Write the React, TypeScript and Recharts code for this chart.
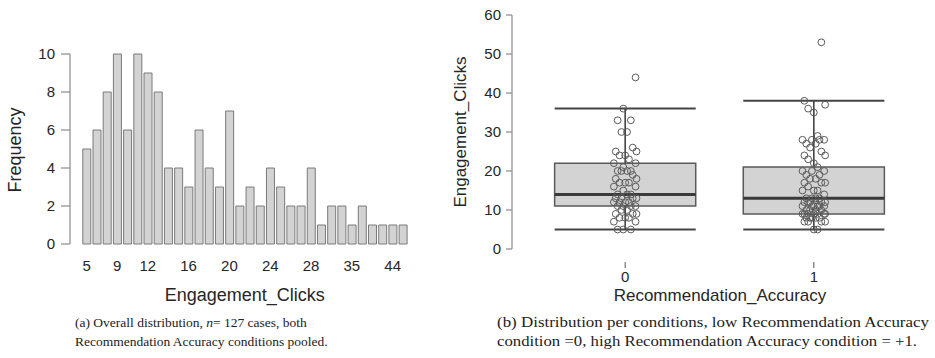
import React from 'react';
import {
  BarChart,
  Bar,
  XAxis,
  YAxis,
  ComposedChart,
  Scatter,
  ReferenceArea,
  ReferenceLine,
} from 'recharts';

// ---------- (a) histogram data ----------
const clickValues = ['5', '7', '8', '9', '10', '11', '12', '13', '14', '15', '16', '17', '18', '19', '20', '21', '22', '23', '24', '25', '26', '27', '28', '29', '30', '33', '35', '36', '37', '38', '44', '53'];
const frequencies = [5, 6, 8, 10, 6, 10, 9, 8, 4, 4, 3, 6, 4, 3, 7, 2, 3, 2, 4, 3, 2, 2, 4, 1, 2, 2, 1, 2, 1, 1, 1, 1];
const shownClickTicks = ['5', '9', '12', '16', '20', '24', '28', '35', '44'];
const frequencyTicks = [0, 2, 4, 6, 8, 10];

// ---------- (b) box plot data ----------
const accuracyGroups = [0, 1];
const lowAccuracyClicks = [5, 5, 5, 7, 7, 8, 8, 8, 9, 9, 9, 10, 10, 11, 11, 11, 11, 12, 12, 12, 12, 13, 13, 13, 13, 14, 14, 14, 15, 16, 16, 17, 17, 17, 18, 18, 19, 20, 20, 20, 20, 21, 22, 22, 23, 24, 24, 25, 25, 26, 30, 30, 33, 33, 36, 44];
const highAccuracyClicks = [5, 5, 7, 7, 7, 7, 8, 8, 8, 8, 8, 9, 9, 9, 9, 9, 9, 9, 10, 10, 10, 10, 11, 11, 11, 11, 11, 11, 12, 12, 12, 12, 12, 13, 13, 13, 13, 14, 15, 15, 15, 16, 17, 17, 17, 18, 18, 19, 19, 20, 20, 20, 21, 22, 23, 24, 24, 25, 26, 27, 27, 28, 28, 28, 28, 29, 35, 36, 37, 38, 53];
const boxQ1 = [11, 9];
const boxMedian = [14, 13];
const boxQ3 = [22, 21];
const whiskerLow = [5, 5];
const whiskerHigh = [36, 38];
const clickTicks = [0, 10, 20, 30, 40, 50, 60];

// hand-set horizontal jitter pattern (category units)
const jitterPattern = [-0.04, 0.03, -0.01, 0.055, -0.06, 0.02, 0.0, -0.03, 0.06, -0.05, 0.04, -0.02, 0.01];

const histData = clickValues.map((c, i) => ({ clicks: c, frequency: frequencies[i] }));
const lowPoints = lowAccuracyClicks.map((v, i) => ({ x: accuracyGroups[0] + jitterPattern[i % jitterPattern.length], y: v }));
const highPoints = highAccuracyClicks.map((v, i) => ({ x: accuracyGroups[1] + jitterPattern[(i + 5) % jitterPattern.length], y: v }));

const FONT = '"Liberation Sans", Arial, sans-serif';
const SERIF = '"Liberation Serif", "Times New Roman", serif';
const TEXT = '#262626';
const AXIS = '#8a8a8a';
const HALF = 0.374;

const OpenDot = (p: any) => (
  <circle cx={p.cx} cy={p.cy} r={3.4} fill="none" stroke="#5a5a5a" strokeWidth={1} />
);

const AccuracyTick = (p: any) => {
  const { x, y, payload } = p;
  return (
    <g>
      <line x1={x} x2={x} y1={y + 13} y2={y + 19} stroke="#555" strokeWidth={1} />
      <text x={x} y={y + 33} textAnchor="middle" fontSize={15} fill={TEXT} fontFamily={FONT}>
        {payload.value}
      </text>
    </g>
  );
};

export default function App() {
  return (
    <div style={{ position: 'absolute', left: 0, top: 0, width: 935, height: 358, background: '#fff', overflow: 'hidden' }}>
      <div style={{ position: 'absolute', left: 0, top: 0 }}>
        <BarChart
          width={420}
          height={310}
          data={histData}
          margin={{ top: 54, right: 12, left: 0, bottom: 0 }}
          barCategoryGap={1.3}
        >
          <XAxis
            dataKey="clicks"
            type="category"
            interval={0}
            axisLine={false}
            tickLine={false}
            tickSize={0}
            tickMargin={16}
            height={66}
            padding={{ left: 11.5, right: 0 }}
            tick={{ fontSize: 15, fill: TEXT, fontFamily: FONT }}
            tickFormatter={(v: string) => (shownClickTicks.includes(v) ? v : '')}
            label={{
              content: (lp: any) => {
                const vb = lp.viewBox || { x: 70, y: 244, width: 338, height: 66 };
                return (
                  <text x={vb.x + 11.5 + (vb.width - 11.5) / 2} y={301} textAnchor="middle" fontSize={18} fill={TEXT} fontFamily={FONT}>
                    Engagement_Clicks
                  </text>
                );
              },
            }}
          />
          <YAxis
            type="number"
            domain={[0, 10]}
            ticks={frequencyTicks}
            width={70}
            tickSize={9}
            tickMargin={6}
            axisLine={{ stroke: AXIS, strokeWidth: 1.2 }}
            tickLine={{ stroke: AXIS, strokeWidth: 1.2 }}
            tick={{ fontSize: 15, fill: TEXT, fontFamily: FONT }}
            label={{
              content: () => (
                <text x={21} y={150} transform="rotate(-90 21 150)" textAnchor="middle" fontSize={18} fill={TEXT} fontFamily={FONT}>
                  Frequency
                </text>
              ),
            }}
          />
          <Bar dataKey="frequency" fill="#d3d3d3" stroke="#7a7a7a" strokeWidth={1} isAnimationActive={false} />
        </BarChart>
      </div>

      <div style={{ position: 'absolute', left: 440, top: 0 }}>
        <ComposedChart width={495} height={310} margin={{ top: 15, right: 8, left: 0, bottom: 0 }}>
          <XAxis
            dataKey="x"
            type="number"
            domain={[-0.6, 1.6]}
            ticks={accuracyGroups}
            allowDataOverflow
            axisLine={false}
            tickLine={false}
            tickSize={0}
            tickMargin={0}
            height={61}
            tick={<AccuracyTick />}
            label={{
              content: () => (
                <text x={280} y={301} textAnchor="middle" fontSize={17} fill={TEXT} fontFamily={FONT}>
                  Recommendation_Accuracy
                </text>
              ),
            }}
          />
          <YAxis
            dataKey="y"
            type="number"
            domain={[0, 60]}
            ticks={clickTicks}
            width={72}
            tickSize={6}
            tickMargin={5}
            axisLine={{ stroke: AXIS, strokeWidth: 1.2 }}
            tickLine={{ stroke: AXIS, strokeWidth: 1.2 }}
            tick={{ fontSize: 15, fill: TEXT, fontFamily: FONT }}
            label={{
              content: () => (
                <text x={26} y={132} transform="rotate(-90 26 132)" textAnchor="middle" fontSize={17} fill={TEXT} fontFamily={FONT}>
                  Engagement_Clicks
                </text>
              ),
            }}
          />
          {accuracyGroups.map((g, i) => (
            <ReferenceArea
              key={'box' + g}
              x1={g - HALF}
              x2={g + HALF}
              y1={boxQ1[i]}
              y2={boxQ3[i]}
              fill="#d3d3d3"
              fillOpacity={1}
              stroke="#5a5a5a"
              strokeWidth={1.5}
            />
          ))}
          {accuracyGroups.map((g, i) => (
            <ReferenceLine key={'wu' + g} segment={[{ x: g, y: boxQ3[i] }, { x: g, y: whiskerHigh[i] }]} stroke="#444" strokeWidth={1.6} />
          ))}
          {accuracyGroups.map((g, i) => (
            <ReferenceLine key={'wl' + g} segment={[{ x: g, y: whiskerLow[i] }, { x: g, y: boxQ1[i] }]} stroke="#444" strokeWidth={1.6} />
          ))}
          {accuracyGroups.map((g, i) => (
            <ReferenceLine key={'ch' + g} segment={[{ x: g - HALF, y: whiskerHigh[i] }, { x: g + HALF, y: whiskerHigh[i] }]} stroke="#444" strokeWidth={2} />
          ))}
          {accuracyGroups.map((g, i) => (
            <ReferenceLine key={'cl' + g} segment={[{ x: g - HALF, y: whiskerLow[i] }, { x: g + HALF, y: whiskerLow[i] }]} stroke="#444" strokeWidth={2} />
          ))}
          {accuracyGroups.map((g, i) => (
            <ReferenceLine key={'md' + g} segment={[{ x: g - HALF, y: boxMedian[i] }, { x: g + HALF, y: boxMedian[i] }]} stroke="#3a3a3a" strokeWidth={3} />
          ))}
          <Scatter data={lowPoints} dataKey="y" shape={OpenDot} isAnimationActive={false} />
          <Scatter data={highPoints} dataKey="y" shape={OpenDot} isAnimationActive={false} />
        </ComposedChart>
      </div>

      <svg width={935} height={358} style={{ position: 'absolute', left: 0, top: 0, pointerEvents: 'none' }}>
        <g fontFamily={SERIF} fill="#222">
          <text x={75} y={327} fontSize={13.5}>
            (a) Overall distribution, <tspan fontStyle="italic">n</tspan>= 127 cases, both
          </text>
          <text x={75} y={346} fontSize={13.5}>
            Recommendation Accuracy conditions pooled.
          </text>
          <text x={497} y={327} fontSize={14} textLength={432} lengthAdjust="spacingAndGlyphs">
            (b) Distribution per conditions, low Recommendation Accuracy
          </text>
          <text x={497} y={346} fontSize={14} textLength={420} lengthAdjust="spacingAndGlyphs">
            condition =0, high Recommendation Accuracy condition = +1.
          </text>
        </g>
      </svg>
    </div>
  );
}
